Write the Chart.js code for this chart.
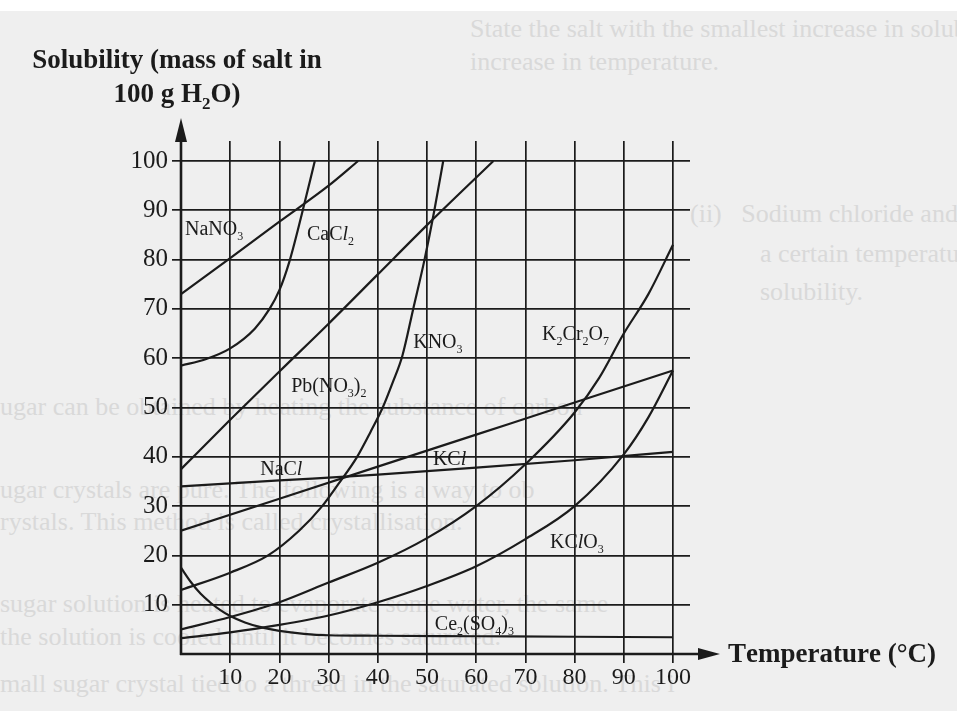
<!DOCTYPE html>
<html>
<head>
<meta charset="utf-8">
<script src="https://cdn.jsdelivr.net/npm/chart.js@4.4.1/dist/chart.umd.min.js"></script>
<style>
  html, body { margin: 0; padding: 0; background: #efefef; }
  #wrap { position: relative; width: 957px; height: 711px; overflow: hidden; background: #efefef; }
  #strip { position: absolute; left: 0; top: 0; width: 957px; height: 11px; background: #ffffff; }
  .ghost { position: absolute; white-space: nowrap; font: 26px "Liberation Serif", serif; line-height: 26px; color: #d9d9d9; }
  canvas { position: absolute; left: 0; top: 0; }
</style>
</head>
<body>
<div id="wrap">
  <div id="strip"></div>
  <!-- faint show-through text of the scanned page -->
  <div class="ghost" style="left:470px;top:16px">State the salt with the smallest increase in solubility with</div>
  <div class="ghost" style="left:470px;top:49px">increase in temperature.</div>
  <div class="ghost" style="left:690px;top:201px">(ii)&nbsp;&nbsp;&nbsp;Sodium chloride and potassium chloride have the same s</div>
  <div class="ghost" style="left:760px;top:241px">a certain temperature. State this temperature and the sa</div>
  <div class="ghost" style="left:760px;top:279px">solubility.</div>
  <div class="ghost" style="left:0px;top:394px">ugar can be obtained by heating the substance of carbon</div>
  <div class="ghost" style="left:0px;top:477px">ugar crystals are pure. The following is a way to ob</div>
  <div class="ghost" style="left:0px;top:509px">rystals. This method is called crystallisation.</div>
  <div class="ghost" style="left:0px;top:591px">sugar solution is heated to evaporate some water, the same</div>
  <div class="ghost" style="left:0px;top:624px">the solution is cooled until it becomes saturated.</div>
  <div class="ghost" style="left:0px;top:671px">mall sugar crystal tied to a thread in the saturated solution. This i</div>
  <canvas id="chart" width="957" height="711"></canvas>
</div>

<script>
// --- DADOS ---
const ticks10 = [0, 10, 20, 30, 40, 50, 60, 70, 80, 90, 100];
const xTickLabels = ['', '10', '20', '30', '40', '50', '60', '70', '80', '90', '100'];
const yTickLabels = ['', '10', '20', '30', '40', '50', '60', '70', '80', '90', '100'];

const nano3T = [0, 10, 20, 30, 36];
const nano3S = [73, 80.3, 87.7, 95, 100];

const cacl2T = [0, 5, 10, 15, 18, 20, 22, 24.5, 27.2];
const cacl2S = [58.5, 59.8, 62, 66, 70, 73.8, 79.5, 89, 100];

const pbT = [0, 10, 20, 30, 40, 50, 63.5];
const pbS = [37.5, 47.5, 57.3, 67, 77, 87, 100];

const kno3T = [0, 10, 17.7, 24, 28.7, 32, 35.8, 38.5, 41, 43, 45, 47.2, 49.5, 51.5, 53.3];
const kno3S = [13, 16.5, 20, 25, 30, 34.5, 40, 45, 50, 55, 60.5, 70, 80, 90, 100];

const k2cr2o7T = [0, 10, 20, 30, 40, 50, 60, 70, 80, 85, 90, 95, 100];
const k2cr2o7S = [5, 7.5, 10.5, 14.5, 18.5, 23.5, 30, 38.5, 49, 56, 65, 73, 83];

const kclT = [0, 20, 40, 60, 80, 100];
const kclS = [25, 31.5, 38, 44.5, 51, 57.5];

const naclT = [0, 20, 40, 60, 80, 100];
const naclS = [34, 35.2, 36.4, 37.8, 39.3, 41];

const kclo3T = [0, 10, 20, 30, 40, 50, 60, 70, 80, 90, 95, 100];
const kclo3S = [3.2, 4.4, 5.9, 7.8, 10.5, 13.8, 17.8, 23.3, 30, 40.5, 48, 57.5];

const ce2T = [0, 2, 4, 6, 8, 10, 13, 16, 20, 25, 30, 40, 60, 80, 100];
const ce2S = [17.5, 14.6, 12.2, 10.4, 8.9, 7.7, 6.4, 5.5, 4.7, 4.1, 3.8, 3.7, 3.6, 3.5, 3.4];

// nomes dos sais: "_" = índice, "|" = itálico
const saltNames = ['NaNO_3', 'CaC|l|_2', 'KNO_3', 'Pb(NO_3)_2', 'K_2Cr_2O_7', 'NaC|l|', 'KC|l|', 'KC|l|O_3', 'Ce_2(SO_4)_3'];
// onde cada nome fica (temperatura, solubilidade)
const nameSpots = [[0.8, 85], [25.6, 84], [47.2, 62.1], [22.4, 53.1], [73.4, 63.7], [16.1, 36.3], [51.2, 38.3], [75, 21.5], [51.6, 4.9]];

// --- ESTILO ---
const SERIF = '"Liberation Serif", "Times New Roman", serif';
const INK = '#1b1b1b';

const series = [
  [nano3T, nano3S], [cacl2T, cacl2S], [pbT, pbS], [kno3T, kno3S], [k2cr2o7T, k2cr2o7S],
  [kclT, kclS], [naclT, naclS], [kclo3T, kclo3S], [ce2T, ce2S]
];

const datasets = series.map(([t, s]) => ({
  data: t.map((v, i) => ({ x: v, y: s[i] })),
  showLine: true,
  borderColor: INK,
  borderWidth: 2.2,
  pointRadius: 0,
  cubicInterpolationMode: 'monotone',
  fill: false
}));

// desenha texto com índices e itálico
function richParts(str) {
  const parts = [];
  let italic = false;
  for (let i = 0; i < str.length; i++) {
    const c = str[i];
    if (c === '|') { italic = !italic; continue; }
    if (c === '_') { parts.push({ t: str[++i], sub: true, it: italic }); continue; }
    parts.push({ t: c, sub: false, it: italic });
  }
  return parts;
}

function drawRich(ctx, str, x, y, size, bold, align) {
  const parts = richParts(str);
  const w = bold ? 'bold ' : '';
  const fontOf = p => (p.it ? 'italic ' : '') + w + (p.sub ? Math.round(size * 0.62) : size) + 'px ' + SERIF;
  let total = 0;
  parts.forEach(p => { ctx.font = fontOf(p); total += ctx.measureText(p.t).width; });
  let cx = align === 'center' ? x - total / 2 : x;
  ctx.textAlign = 'left';
  ctx.textBaseline = 'alphabetic';
  parts.forEach(p => {
    ctx.font = fontOf(p);
    ctx.fillText(p.t, cx, p.sub ? y + size * 0.25 : y);
    cx += ctx.measureText(p.t).width;
  });
}

const extras = {
  id: 'extras',
  afterDraw(chart) {
    const ctx = chart.ctx;
    const xs = chart.scales.x, ys = chart.scales.y;
    const area = chart.chartArea;
    const x0 = xs.getPixelForValue(0), y0 = ys.getPixelForValue(0);
    ctx.save();
    ctx.fillStyle = INK;
    ctx.strokeStyle = INK;
    ctx.lineWidth = 2.6;

    // eixos com setas
    const yTip = area.top - 23, xTip = area.right + 30;
    ctx.beginPath();
    ctx.moveTo(x0, y0 + 1); ctx.lineTo(x0, yTip + 10);
    ctx.moveTo(x0 - 1, y0); ctx.lineTo(xTip - 10, y0);
    ctx.stroke();
    ctx.beginPath();
    ctx.moveTo(x0, yTip); ctx.lineTo(x0 - 6, yTip + 24); ctx.lineTo(x0 + 6, yTip + 24); ctx.closePath();
    ctx.moveTo(xTip, y0); ctx.lineTo(xTip - 22, y0 - 6); ctx.lineTo(xTip - 22, y0 + 6); ctx.closePath();
    ctx.fill();

    // nomes das curvas
    saltNames.forEach((n, i) => {
      drawRich(ctx, n, xs.getPixelForValue(nameSpots[i][0]), ys.getPixelForValue(nameSpots[i][1]), 20, false, 'left');
    });

    // títulos dos eixos
    drawRich(ctx, 'Solubility (mass of salt in', 177, 68, 27, true, 'center');
    drawRich(ctx, '100 g H_2O)', 177, 102, 27, true, 'center');
    drawRich(ctx, 'Temperature (°C)', xTip + 8, y0 + 8, 27, true, 'left');
    ctx.restore();
  }
};

const axisCommon = {
  type: 'linear',
  min: 0,
  afterBuildTicks: s => { s.ticks = ticks10.map(v => ({ value: v })); },
  border: { display: false },
  grid: {
    color: c => (c.tick && c.tick.value === 0 ? 'rgba(0,0,0,0)' : INK),
    lineWidth: 1.7,
    tickLength: 9,
    drawTicks: true
  }
};

new Chart(document.getElementById('chart'), {
  type: 'scatter',
  data: { datasets },
  options: {
    responsive: false,
    animation: false,
    devicePixelRatio: 1,
    layout: { padding: { left: 0, top: 141, right: 267, bottom: 0 } },
    plugins: { legend: { display: false }, tooltip: { enabled: false } },
    scales: {
      x: Object.assign({}, axisCommon, {
        max: 103.46,
        afterFit: s => { s.height = 57; },
        ticks: {
          font: { family: SERIF, size: 24 }, color: INK, padding: 0,
          maxRotation: 0, autoSkip: false,
          callback: (v, i) => xTickLabels[i]
        }
      }),
      y: Object.assign({}, axisCommon, {
        max: 104.06,
        afterFit: s => { s.width = 181; },
        ticks: {
          font: { family: SERIF, size: 25 }, color: INK, padding: 4,
          autoSkip: false,
          callback: (v, i) => yTickLabels[i]
        }
      })
    }
  },
  plugins: [extras]
});
</script>
</body>
</html>
